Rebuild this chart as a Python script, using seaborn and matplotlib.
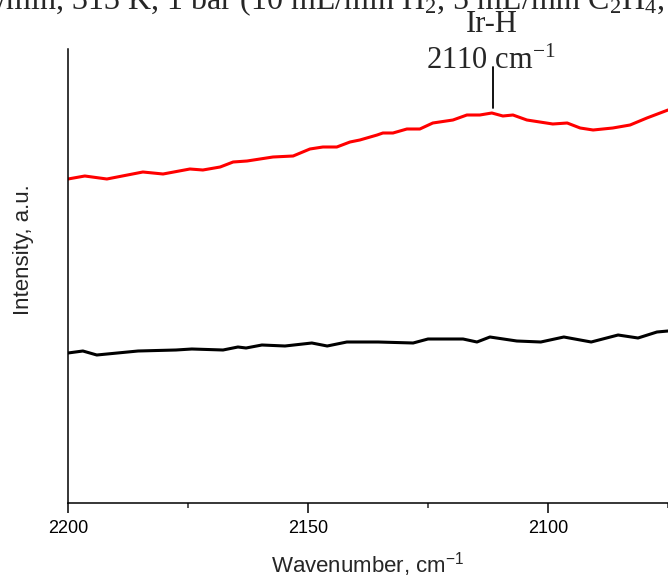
import matplotlib
matplotlib.use("Agg")
import matplotlib.pyplot as plt
import seaborn as sns
import pandas as pd

# Wavenumber (cm-1) and intensity (a.u.)
red_x = [2200.0, 2196.5, 2191.9, 2184.4, 2180.2, 2174.6, 2171.9, 2168.3, 2165.6, 2162.7,
         2157.3, 2153.1, 2149.6, 2146.9, 2144.0, 2141.25, 2139.2, 2135.6, 2134.4, 2132.3,
         2129.4, 2126.7, 2124.0, 2119.8, 2116.9, 2114.2, 2111.7, 2109.4, 2107.3, 2104.4,
         2101.7, 2099.0, 2096.0, 2093.3, 2090.6, 2086.5, 2082.9, 2079.4, 2075.0]
red_y = [3.24, 3.27, 3.24, 3.31, 3.29, 3.34, 3.33, 3.36, 3.41, 3.42,
         3.46, 3.47, 3.54, 3.56, 3.56, 3.61, 3.63, 3.68, 3.70, 3.70,
         3.74, 3.74, 3.80, 3.83, 3.88, 3.88, 3.90, 3.87, 3.88, 3.83,
         3.81, 3.79, 3.80, 3.75, 3.73, 3.75, 3.78, 3.85, 3.93]

black_x = [2200.0, 2196.9, 2194.0, 2185.4, 2177.5, 2174.2, 2167.7, 2164.6, 2162.9, 2159.6,
           2154.8, 2149.2, 2146.0, 2141.9, 2135.4, 2128.1, 2125.0, 2117.7, 2114.8, 2112.1,
           2106.5, 2101.5, 2096.7, 2091.0, 2085.4, 2081.25, 2077.3, 2075.0]
black_y = [1.50, 1.52, 1.48, 1.52, 1.53, 1.54, 1.53, 1.56, 1.55, 1.58,
           1.57, 1.60, 1.57, 1.61, 1.61, 1.60, 1.64, 1.64, 1.61, 1.66,
           1.62, 1.61, 1.66, 1.61, 1.68, 1.65, 1.71, 1.72]

x_ticks = [2200, 2150, 2100]
minor_ticks = [2175, 2125, 2075]
peak_x = 2111.5
peak_label = "Ir-H"
peak_text = r"2110 cm$\mathregular{^{-1}}$"
title_text = r"/min, 313 K, 1 bar (10 mL/min H$\mathregular{_2}$, 5 mL/min C$\mathregular{_2}$H$\mathregular{_4}$,"

sns.set_style("ticks")
plt.rcParams["font.family"] = ["Liberation Sans", "DejaVu Sans"]

fig = plt.figure(figsize=(6.68, 5.78), dpi=100)
ax = fig.add_axes([68 / 668, 75 / 578, 600 / 668, 454 / 578])

df_red = pd.DataFrame({"x": red_x, "y": red_y})
df_black = pd.DataFrame({"x": black_x, "y": black_y})
sns.lineplot(data=df_black, x="x", y="y", color="black", lw=2.2, estimator=None, sort=False, ax=ax)
sns.lineplot(data=df_red, x="x", y="y", color="#ff0000", lw=2.2, estimator=None, sort=False, ax=ax)

ax.set_xlim(2200, 2075)
ax.set_ylim(0, 4.54)
ax.set_xticks(x_ticks)
ax.set_xticks(minor_ticks, minor=True)
ax.set_yticks([])
ax.tick_params(axis="x", which="major", length=7, width=1.1, direction="out", labelsize=13, pad=5, colors="black")
ax.tick_params(axis="x", which="minor", length=3.5, width=1.1, direction="out")
sns.despine(ax=ax)
for s in ["left", "bottom"]:
    ax.spines[s].set_linewidth(1.1)
    ax.spines[s].set_color("black")

ax.set_xlabel(r"Wavenumber, cm$\mathregular{^{-1}}$", fontsize=16)
ax.set_ylabel("Intensity, a.u.", fontsize=16)
ax.xaxis.set_label_coords(0.5, -0.136)
ax.xaxis.label.set_va("center")
ax.yaxis.set_label_coords(-0.075, 0.557)
ax.yaxis.label.set_va("center")

# annotation
ax.plot([peak_x, peak_x], [3.95, 4.36], color="black", lw=1.3, clip_on=False)
serif = ["Liberation Serif", "DejaVu Serif"]
ax.text(2111.7, 4.78, peak_label, ha="center", va="center", fontsize=22, family=serif, clip_on=False)
ax.text(2112.0, 4.42, peak_text, ha="center", va="center", fontsize=22, family=serif, clip_on=False)
fig.text(-0.004, 1 - 9 / 578, title_text, ha="left", va="baseline", fontsize=23, family=serif)

fig.savefig("out.png", dpi=100)
